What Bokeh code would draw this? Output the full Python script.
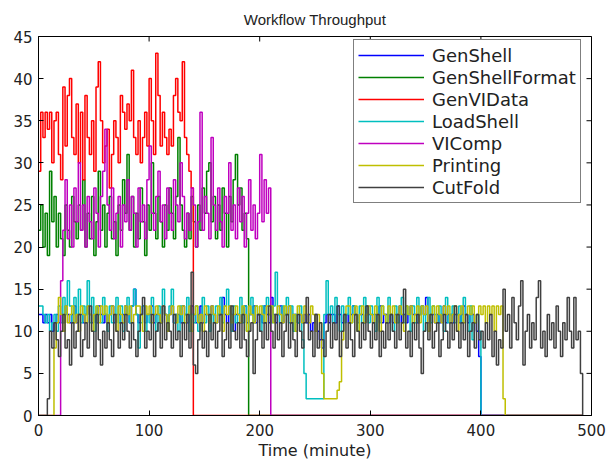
import numpy as np
from bokeh.plotting import figure
from bokeh.models import Range1d, FixedTicker, Legend, LegendItem
from bokeh.embed import file_html
from bokeh.resources import INLINE

# time grid (minutes), one sample every 2 minutes
time_step = 2
time_end = 492

x_ticks = [0, 100, 200, 300, 400, 500]
y_ticks = [0, 5, 10, 15, 20, 25, 30, 35, 40, 45]

gen_shell = [
    12, 12, 11, 12, 11, 12, 10, 11, 12, 11,
    12, 11, 13, 12, 11, 12, 13, 11, 12, 12,
    11, 12, 13, 12, 11, 12, 11, 13, 12, 11,
    12, 11, 12, 13, 11, 12, 12, 11, 12, 13,
    12, 11, 13, 15, 12, 11, 12, 13, 11, 12,
    12, 13, 11, 12, 12, 11, 13, 12, 11, 12,
    13, 11, 12, 12, 11, 13, 12, 11, 12, 13,
    12, 11, 12, 13, 11, 12, 12, 11, 13, 12,
    11, 12, 12, 14, 12, 11, 13, 12, 10, 12,
    12, 11, 12, 13, 11, 12, 12, 13, 11, 12,
    12, 11, 13, 12, 11, 14, 12, 11, 12, 13,
    11, 12, 12, 13, 11, 12, 12, 11, 12, 11,
    12, 11, 12, 10, 11, 12, 10, 9, 8, 11,
    12, 11, 12, 12, 11, 13, 12, 11, 12, 12,
    11, 12, 13, 12, 11, 12, 12, 11, 13, 12,
    12, 11, 12, 12, 13, 11, 12, 12, 11, 12,
    11, 12, 12, 13, 11, 12, 11, 12, 13, 12,
    12, 11, 12, 13, 12, 14, 11, 12, 12, 11,
    12, 11, 12, 13, 11, 12, 12, 11, 12, 12,
    11, 12, 13, 12, 11, 12, 12, 11, 10, 7,
]

gen_shell_format = [
    22, 25, 20, 24, 19, 29, 23, 26, 20, 24,
    21, 19, 25, 22, 20, 26, 23, 21, 25, 22,
    28, 20, 24, 21, 26, 19, 23, 29, 22, 25,
    20, 24, 26, 21, 23, 19, 25, 22, 28, 24,
    31, 22, 26, 20, 24, 21, 27, 23, 19, 25,
    22, 30, 24, 21, 26, 23, 20, 25, 22, 27,
    24, 21, 26, 33, 25, 22, 20, 24, 21, 26,
    23, 20, 25, 22, 27, 24, 29, 30, 23, 26,
    21, 25, 22, 27, 24, 20, 26, 23, 28, 31,
    25, 27, 22, 24, 21,
]

gen_vi_data = [
    29, 36, 33, 36, 34, 36, 30, 35, 36, 31,
    28, 39, 32, 38, 40, 33, 31, 37, 30, 36,
    28, 38, 33, 31, 35, 29, 39, 42, 35, 30,
    32, 34, 27, 31, 35, 33, 30, 38, 36, 34,
    37, 35, 41, 33, 31, 35, 30, 33, 36, 32,
    40, 35, 31, 43, 38, 32, 36, 33, 31, 34,
    32, 38, 40, 36, 35, 42, 33, 31, 29, 27,
]

load_shell = [
    13, 13, 12, 11, 12, 10, 11, 12, 10, 13,
    11, 14, 12, 16, 13, 11, 14, 12, 15, 11,
    13, 12, 16, 11, 14, 10, 13, 12, 11, 14,
    12, 10, 13, 11, 12, 14, 11, 13, 10, 12,
    14, 11, 13, 15, 12, 8, 11, 13, 10, 12,
    11, 14, 12, 10, 13, 11, 15, 12, 10, 13,
    15, 11, 12, 10, 13, 11, 12, 14, 10, 12,
    11, 13, 10, 12, 14, 11, 13, 10, 12, 11,
    13, 12, 14, 11, 13, 15, 12, 10, 13, 11,
    12, 14, 11, 13, 10, 12, 14, 11, 13, 12,
    10, 13, 11, 14, 12, 11, 13, 17, 12, 11,
    13, 12, 14, 11, 13, 10, 12, 11, 13, 9,
    5, 2, 2, 2, 2, 2, 2, 2, 2, 12,
    16, 12, 13, 11, 14, 12, 10, 13, 11, 12,
    14, 11, 13, 12, 10, 13, 11, 14, 12, 11,
    13, 12, 10, 14, 11, 13, 12, 11, 14, 12,
    10, 13, 11, 12, 14, 11, 13, 12, 10, 13,
    11, 14, 12, 13, 10, 12, 14, 11, 13, 12,
    11, 13, 12, 10, 14, 11, 12, 13, 11, 12,
    13, 11, 14, 12, 10, 13, 9, 11, 12, 10,
]

vi_comp = [
    0, 0, 0, 0, 0, 0, 0, 0, 0, 0,
    16, 22, 28, 21, 25, 20, 27, 23, 30, 22,
    25, 20, 26, 23, 21, 27, 24, 20, 26, 29,
    34, 25, 22, 27, 21, 24, 26, 20, 25, 23,
    28, 22, 26, 24, 20, 27, 23, 25, 21, 28,
    32, 24, 22, 26, 29, 23, 25, 21, 27, 24,
    22, 28, 25, 23, 30, 26, 21, 24, 22, 27,
    25, 20, 23, 36, 22, 26, 24, 21, 33, 25,
    22, 27, 23, 20, 26, 24, 30, 22, 25, 21,
    27, 23, 26, 20, 24, 28, 22, 25, 21, 24,
    31, 23, 28, 24, 27,
]

printing = [
    0, 0, 0, 0, 0, 0, 0, 8, 11, 14,
    12, 10, 13, 11, 12, 13, 11, 12, 10, 13,
    12, 11, 13, 12, 10, 12, 13, 11, 13, 12,
    13, 11, 12, 13, 12, 10, 13, 12, 11, 13,
    12, 13, 11, 12, 13, 13, 12, 10, 13, 12,
    13, 11, 12, 13, 12, 11, 13, 12, 10, 12,
    13, 12, 11, 13, 12, 13, 11, 12, 13, 10,
    12, 13, 11, 12, 10, 13, 12, 11, 13, 12,
    11, 13, 12, 10, 13, 12, 13, 11, 12, 13,
    12, 11, 13, 12, 10, 13, 12, 11, 13, 12,
    13, 12, 11, 13, 12, 13, 11, 12, 13, 12,
    11, 13, 12, 13, 11, 12, 10, 13, 12, 11,
    13, 12, 11, 13, 12, 10, 12, 11, 5, 2,
    2, 2, 2, 2, 2, 3, 4, 9, 12, 13,
    13, 11, 12, 13, 10, 12, 13, 11, 12, 13,
    12, 11, 13, 12, 10, 13, 12, 11, 13, 12,
    13, 11, 12, 13, 12, 10, 13, 12, 13, 11,
    12, 13, 11, 13, 12, 13, 10, 12, 13, 11,
    13, 12, 11, 13, 12, 13, 11, 12, 13, 10,
    12, 13, 11, 12, 13, 12, 13, 11, 12, 13,
    12, 13, 11, 13, 12, 13, 10, 13, 12, 13,
    2,
]

cut_fold = [
    0, 0, 0, 0, 2, 10, 8, 11, 9, 7,
    10, 12, 8, 9, 6, 11, 8, 10, 12, 7,
    9, 11, 8, 13, 10, 7, 12, 9, 6, 10,
    8, 11, 9, 7, 12, 10, 8, 11, 9, 12,
    10, 8, 11, 9, 7, 10, 12, 14, 8, 10,
    9, 12, 7, 10, 11, 8, 13, 9, 11, 10,
    8, 12, 9, 10, 7, 11, 9, 12, 8, 17,
    6, 5, 9, 11, 8, 10, 7, 12, 9, 11,
    8, 10, 12, 7, 9, 11, 8, 13, 10, 9,
    11, 8, 12, 9, 7, 10, 11, 5, 9, 12,
    10, 8, 11, 9, 13, 10, 8, 12, 9, 11,
    7, 10, 12, 8, 11, 9, 7, 12, 10, 8,
    11, 14, 9, 10, 7, 12, 8, 11, 9, 7,
    10, 12, 8, 11, 9, 13, 7, 10, 12, 8,
    11, 9, 7, 12, 10, 8, 11, 9, 13, 10,
    8, 11, 9, 12, 7, 10, 8, 11, 9, 12,
    10, 8, 12, 9, 11, 15, 8, 10, 7, 11,
    9, 12, 8, 5, 10, 11, 9, 12, 8, 10,
    11, 7, 9, 12, 10, 8, 11, 9, 13, 10,
    8, 11, 9, 12, 7, 10, 11, 8, 12, 9,
    10, 8, 11, 9, 12, 7, 10, 6, 9, 8,
    15, 10, 12, 8, 14, 11, 9, 13, 16, 6,
    10, 12, 8, 11, 9, 14, 16, 8, 10, 7,
    12, 9, 11, 8, 13, 10, 7, 11, 9, 14,
    10, 8, 14, 9, 10,
    5, 0,
]

series_names = ["GenShell", "GenShellFormat", "GenVIData", "LoadShell",
                "VIComp", "Printing", "CutFold"]
series_values = [gen_shell, gen_shell_format, gen_vi_data, load_shell,
                 vi_comp, printing, cut_fold]
series_colors = ["#0000ff", "#008000", "#ff0000", "#00bfbf",
                 "#bf00bf", "#bfbf00", "#404040"]
title_text = "Workflow Throughput"

t = np.arange(0, time_end + time_step, time_step)


def pad(vals):
    return list(vals) + [0] * (len(t) - len(vals))


FONT = "DejaVu Sans"
TXT = "#222222"

p = figure(width=606, height=463, output_backend="svg", toolbar_location=None,
           x_range=Range1d(0, 500), y_range=Range1d(0, 45),
           min_border_left=38, min_border_right=15, min_border_top=35,
           min_border_bottom=48, title=title_text)
p.title.align = "center"
p.title.vertical_align = "bottom"
p.title.text_font = "Liberation Sans"
p.title.text_font_size = "15px"
p.title.text_font_style = "normal"
p.title.text_color = TXT
p.title.standoff = 17

p.xgrid.visible = False
p.ygrid.visible = False
p.outline_line_color = "black"
p.outline_line_alpha = 1.0
p.background_fill_color = "white"
p.border_fill_color = "white"

no_point = np.array([np.nan])
items = []
for name, vals, col in zip(series_names, series_values, series_colors):
    p.step(t, pad(vals), mode="after", line_color=col, line_width=1.5)
    proxy = p.line(x=no_point, y=no_point, line_color=col, line_width=1.5)
    items.append(LegendItem(label=name, renderers=[proxy]))

# inward ticks on the top and right edges of the box
p.scatter(x=x_ticks, y=[y_ticks[-1]] * len(x_ticks), marker="dash",
          angle=np.pi / 2, size=10, line_color="black", line_width=1)
p.scatter(x=[x_ticks[-1]] * len(y_ticks), y=y_ticks, marker="dash",
          size=10, line_color="black", line_width=1)

for ax in (p.xaxis[0], p.yaxis[0]):
    ax.major_tick_in = 5
    ax.major_tick_out = 0
    ax.minor_tick_line_color = None
    ax.axis_line_color = "black"
    ax.major_tick_line_color = "black"
    ax.major_label_text_font = FONT
    ax.major_label_text_font_size = "15px"
    ax.major_label_text_color = TXT

p.xaxis[0].major_label_standoff = 8
p.yaxis[0].major_label_standoff = 6
p.xaxis[0].ticker = FixedTicker(ticks=x_ticks)
p.yaxis[0].ticker = FixedTicker(ticks=y_ticks)
p.xaxis[0].axis_label = "Time (minute)"
p.xaxis[0].axis_label_text_font = FONT
p.xaxis[0].axis_label_text_font_size = "16px"
p.xaxis[0].axis_label_text_font_style = "normal"
p.xaxis[0].axis_label_text_color = TXT
p.xaxis[0].axis_label_standoff = 2

lg = Legend(items=items, location=(315, 212), margin=0, padding=4,
            spacing=0, glyph_width=66, glyph_height=22, label_height=22,
            label_standoff=8, label_text_font=FONT,
            label_text_font_size="18px", label_text_color=TXT,
            border_line_color="black", border_line_width=1,
            background_fill_alpha=1.0)
p.add_layout(lg, "center")

open("out.html", "w").write(file_html(p, INLINE))
